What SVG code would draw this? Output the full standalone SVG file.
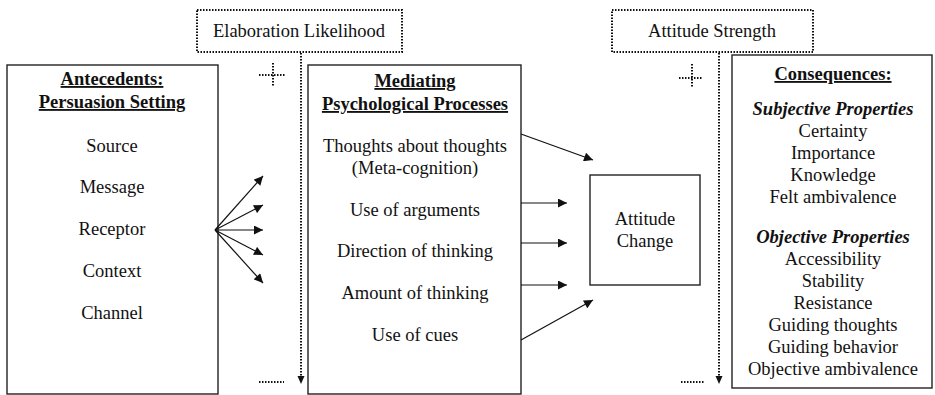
<svg xmlns="http://www.w3.org/2000/svg" width="935" height="395" viewBox="0 0 935 395">
<style>
text{font-family:"Liberation Serif","Times New Roman",serif;font-size:18.5px;fill:#111;text-anchor:middle}
.h{font-weight:bold;text-decoration:underline}
.bi{font-weight:bold;font-style:italic}
.box{fill:#fff;stroke:#222;stroke-width:1.4}
.dot{fill:none;stroke:#111;stroke-width:2;stroke-dasharray:1.5 1.5}
.ln{fill:none;stroke:#111;stroke-width:1.2}
</style>
<defs>
<marker id="ah" viewBox="0 0 10 10" refX="10" refY="5" markerWidth="10" markerHeight="9" markerUnits="userSpaceOnUse" orient="auto"><path d="M0,0 L10,5 L0,10 z" fill="#111"/></marker>
</defs>
<g id="elaboration">
<rect class="dot" x="197" y="10" width="205" height="42"/>
<text x="299" y="37">Elaboration Likelihood</text>
</g>
<g id="strength">
<rect class="dot" x="612" y="10" width="201" height="42"/>
<text x="712" y="37">Attitude Strength</text>
</g>
<g id="antecedents">
<rect class="box" x="7" y="65" width="211" height="329"/>
<text class="h" x="112" y="85">Antecedents:</text>
<text class="h" x="112" y="108">Persuasion Setting</text>
<text x="112" y="152">Source</text>
<text x="112" y="193">Message</text>
<text x="112" y="235">Receptor</text>
<text x="112" y="277">Context</text>
<text x="112" y="319">Channel</text>
</g>
<g id="mediating">
<rect class="box" x="308" y="65" width="213" height="329"/>
<text class="h" x="415" y="87">Mediating</text>
<text class="h" x="415" y="110">Psychological Processes</text>
<text x="415" y="152">Thoughts about thoughts</text>
<text x="415" y="174">(Meta-cognition)</text>
<text x="415" y="216">Use of arguments</text>
<text x="415" y="257">Direction of thinking</text>
<text x="415" y="299">Amount of thinking</text>
<text x="415" y="341">Use of cues</text>
</g>
<g id="attitude-change">
<rect class="box" x="590" y="175" width="110" height="110"/>
<text x="645" y="225">Attitude</text>
<text x="645" y="247">Change</text>
</g>
<g id="consequences">
<rect class="box" x="732" y="55" width="200" height="333"/>
<text class="h" x="833" y="80">Consequences:</text>
<text class="bi" x="833" y="115">Subjective Properties</text>
<text x="833" y="137">Certainty</text>
<text x="833" y="159">Importance</text>
<text x="833" y="181">Knowledge</text>
<text x="833" y="203">Felt ambivalence</text>
<text class="bi" x="833" y="243">Objective Properties</text>
<text x="833" y="265">Accessibility</text>
<text x="833" y="287">Stability</text>
<text x="833" y="309">Resistance</text>
<text x="833" y="331">Guiding thoughts</text>
<text x="833" y="353">Guiding behavior</text>
<text x="833" y="375">Objective ambivalence</text>
</g>
<g id="connectors">
<line class="ln" x1="215" y1="230" x2="263" y2="176" marker-end="url(#ah)"/>
<line class="ln" x1="215" y1="230" x2="263" y2="205" marker-end="url(#ah)"/>
<line class="ln" x1="215" y1="230" x2="263" y2="230" marker-end="url(#ah)"/>
<line class="ln" x1="215" y1="230" x2="263" y2="255" marker-end="url(#ah)"/>
<line class="ln" x1="215" y1="230" x2="263" y2="283" marker-end="url(#ah)"/>
<line class="ln" x1="521" y1="134" x2="593" y2="160" marker-end="url(#ah)"/>
<line class="ln" x1="521" y1="203" x2="567" y2="203" marker-end="url(#ah)"/>
<line class="ln" x1="521" y1="243" x2="567" y2="243" marker-end="url(#ah)"/>
<line class="ln" x1="521" y1="285" x2="567" y2="285" marker-end="url(#ah)"/>
<line class="ln" x1="521" y1="340" x2="593" y2="300" marker-end="url(#ah)"/>
<line class="dot" x1="301" y1="53" x2="301" y2="376"/>
<path d="M297.5,376 L304.5,376 L301,384 z" fill="#111"/>
<line class="dot" x1="719" y1="53" x2="719" y2="376"/>
<path d="M715.5,376 L722.5,376 L719,384 z" fill="#111"/>
<line class="dot" x1="273" y1="63" x2="273" y2="86"/>
<line class="dot" x1="259" y1="75" x2="285" y2="75"/>
<line class="dot" x1="692" y1="64" x2="692" y2="88"/>
<line class="dot" x1="679" y1="78" x2="703" y2="78"/>
<line class="dot" x1="259" y1="382" x2="284" y2="382"/>
<line class="dot" x1="681" y1="382" x2="705" y2="382"/>
</g>
</svg>
